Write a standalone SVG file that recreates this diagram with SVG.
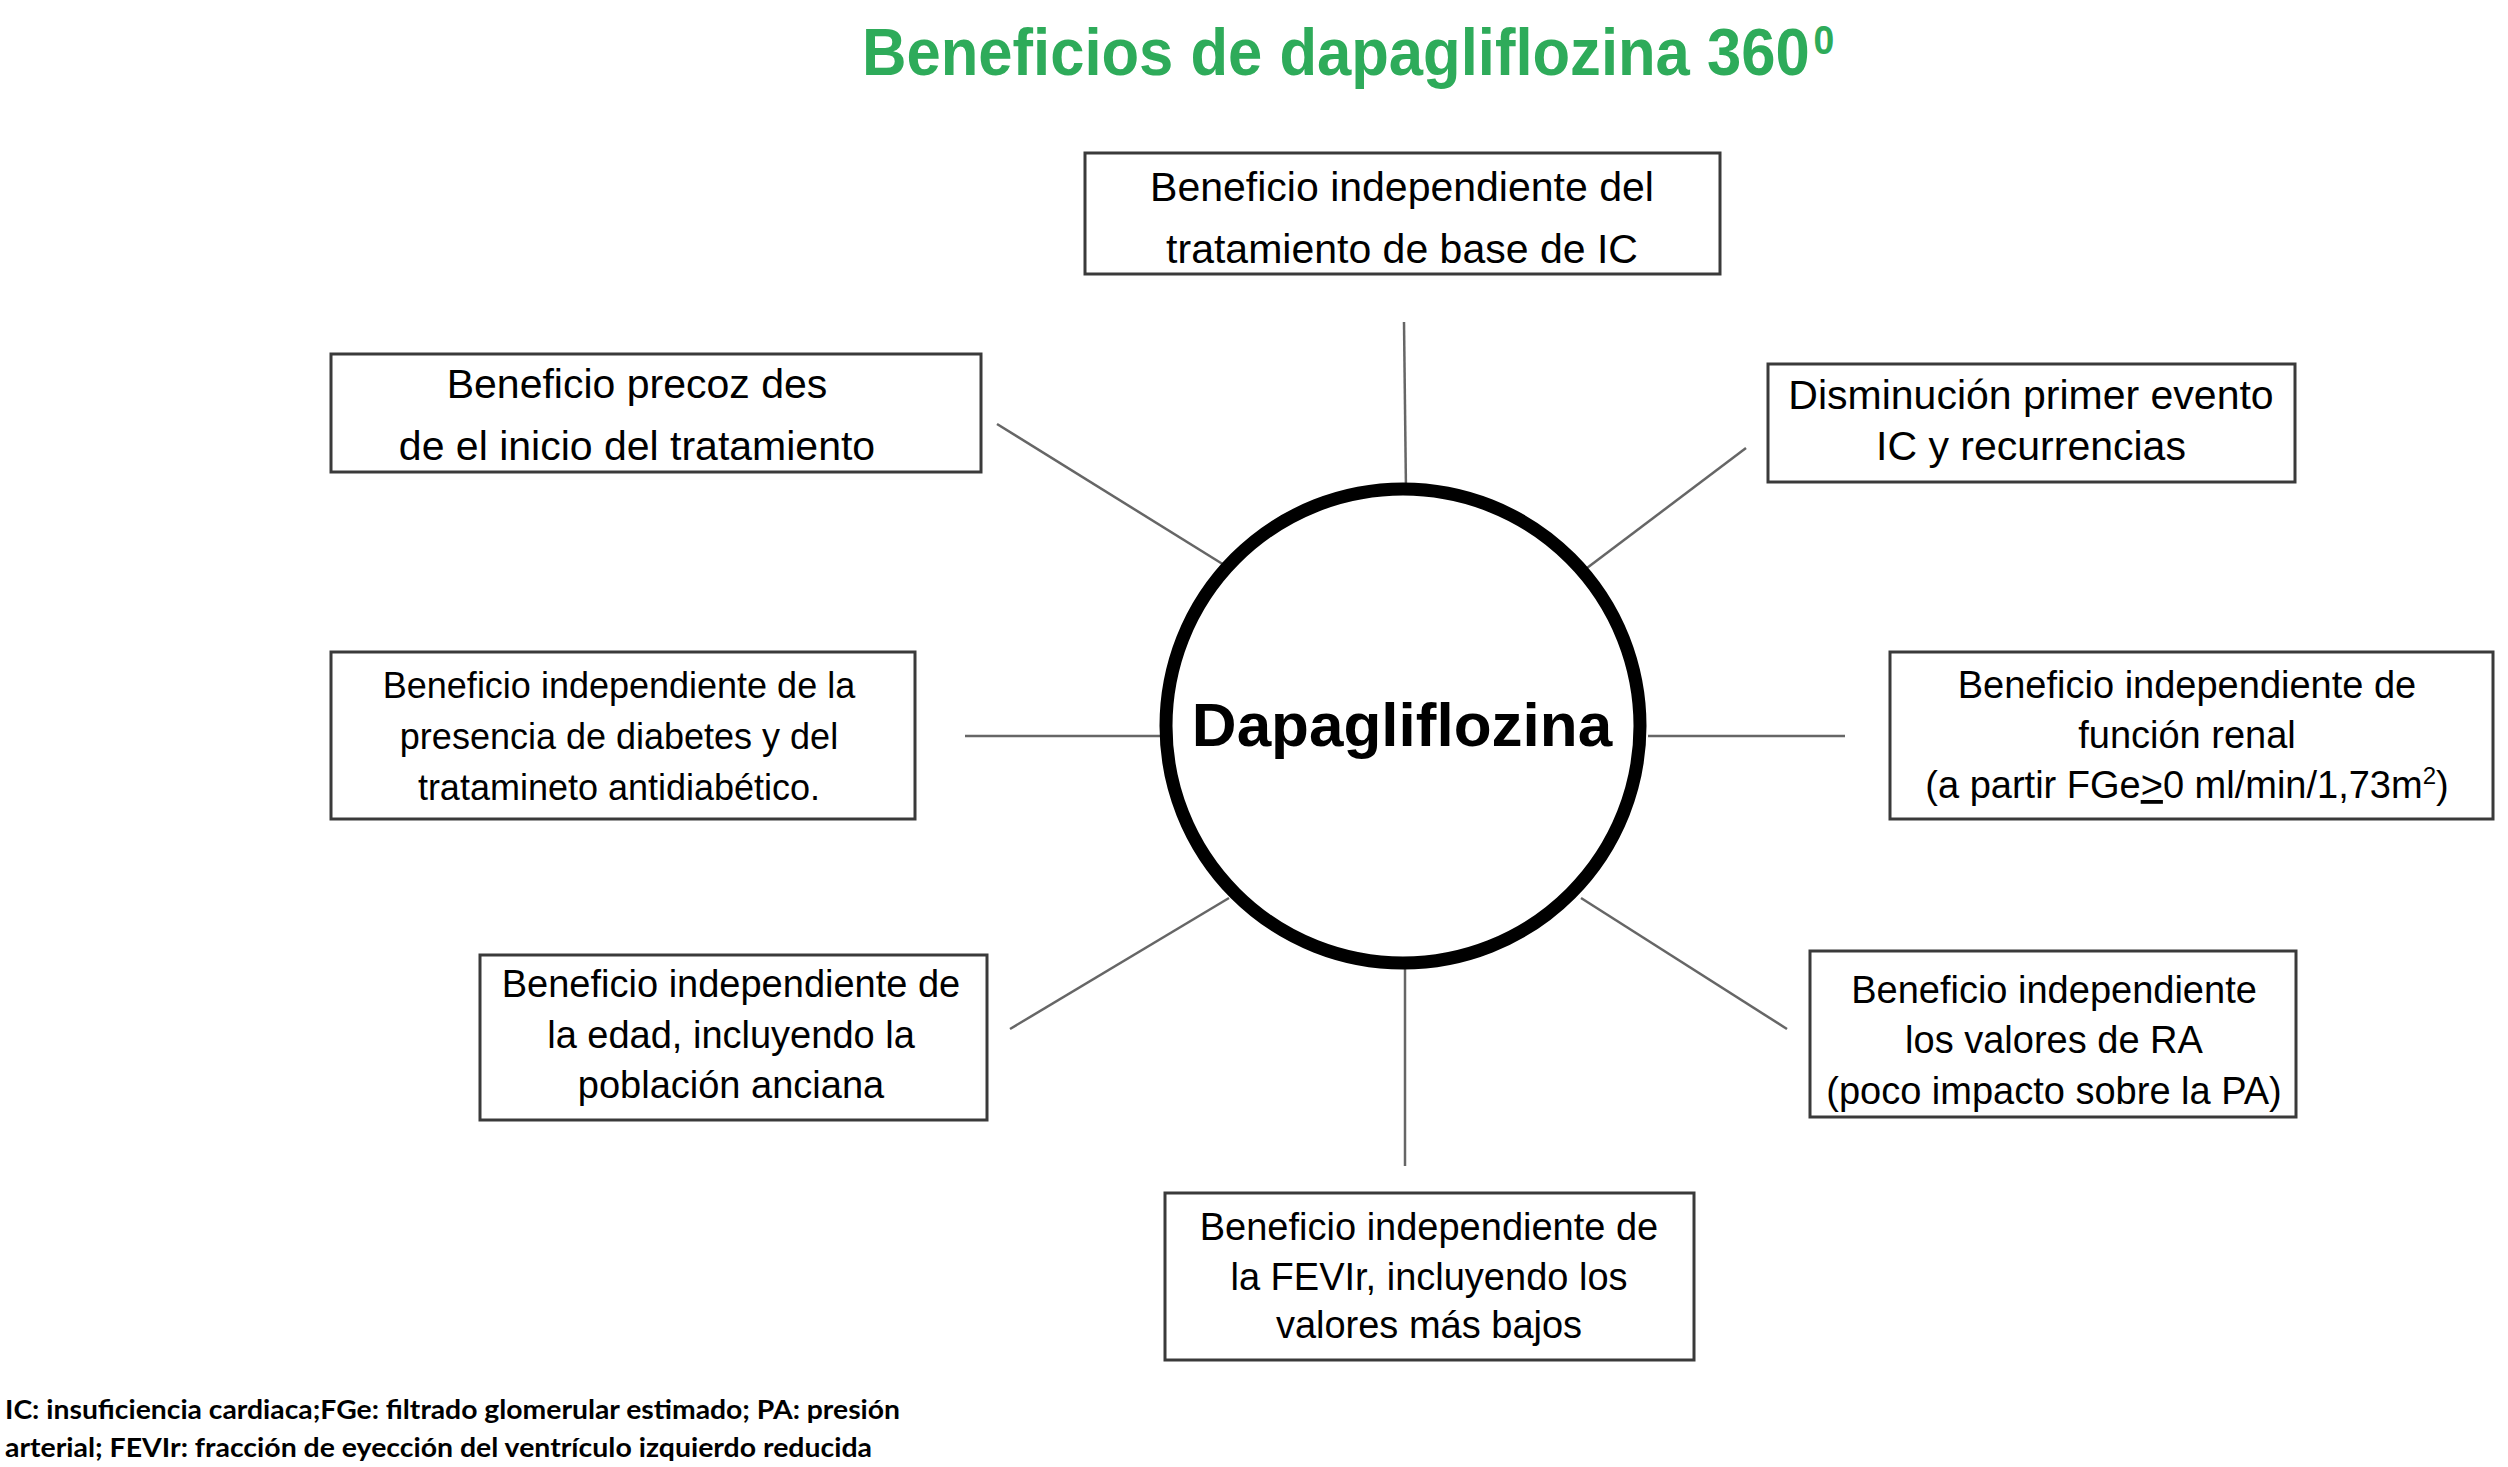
<svg xmlns="http://www.w3.org/2000/svg" width="2508" height="1467" viewBox="0 0 2508 1467">
<style>
.box{fill:#fff;stroke:#3a3a3a;stroke-width:3}
.t{font-family:"Liberation Sans",Arial,Helvetica,sans-serif;fill:#000;text-anchor:middle}
.t41{font-size:41px}
.t38{font-size:38px}
.t36{font-size:36px}
.conn line{stroke:#666;stroke-width:2.5}
.title{font-family:"Liberation Sans",Arial,Helvetica,sans-serif;font-weight:bold;fill:#2eab5a}
.foot{font-family:Lato,"Open Sans",sans-serif;font-weight:bold;font-size:26px;fill:#000}
</style>
<rect width="2508" height="1467" fill="#fff"/>
<g id="title">
<text class="title" transform="translate(862,75) scale(0.933,1)" x="0" y="0" font-size="66">Beneficios de dapagliflozina 360<tspan font-size="40" dx="4" dy="-21">0</tspan></text>
</g>
<g id="connectors" class="conn">
<line x1="1404" y1="322" x2="1406" y2="492"/>
<line x1="997" y1="424" x2="1229" y2="568"/>
<line x1="1746" y1="448" x2="1583" y2="571"/>
<line x1="965" y1="736" x2="1163" y2="736"/>
<line x1="1648" y1="736" x2="1845" y2="736"/>
<line x1="1010" y1="1029" x2="1229" y2="898"/>
<line x1="1581" y1="898" x2="1787" y2="1029"/>
<line x1="1405" y1="966" x2="1405" y2="1166"/>
</g>
<g id="center">
<circle cx="1403" cy="726" r="237" fill="#fff" stroke="#000" stroke-width="13"/>
<text class="t" x="1402" y="746" font-size="62" font-weight="bold">Dapagliflozina</text>
</g>
<g id="n-top">
<rect class="box" x="1085" y="153" width="635" height="121"/>
<text class="t t41" x="1402" y="201">Beneficio independiente del</text>
<text class="t t41" x="1402" y="263">tratamiento de base de IC</text>
</g>
<g id="n-topleft">
<rect class="box" x="331" y="354" width="650" height="118"/>
<text class="t t41" x="637" y="398">Beneficio precoz des</text>
<text class="t t41" x="637" y="460">de el inicio del tratamiento</text>
</g>
<g id="n-topright">
<rect class="box" x="1768" y="364" width="527" height="118"/>
<text class="t t41" x="2031" y="409">Disminución primer evento</text>
<text class="t t41" x="2031" y="460">IC y recurrencias</text>
</g>
<g id="n-left">
<rect class="box" x="331" y="652" width="584" height="167"/>
<text class="t t36" x="619" y="698">Beneficio independiente de la</text>
<text class="t t36" x="619" y="749">presencia de diabetes y del</text>
<text class="t t36" x="619" y="800">tratamineto antidiabético.</text>
</g>
<g id="n-right">
<rect class="box" x="1890" y="652" width="603" height="167"/>
<text class="t t38" x="2187" y="698">Beneficio independiente de</text>
<text class="t t38" x="2187" y="748">función renal</text>
<text class="t t38" x="2187" y="798">(a partir FGe<tspan text-decoration="underline">&gt;</tspan>0 ml/min/1,73m<tspan font-size="24" dy="-14">2</tspan><tspan dy="14">)</tspan></text>
</g>
<g id="n-bottomleft">
<rect class="box" x="480" y="955" width="507" height="165"/>
<text class="t t38" x="731" y="997">Beneficio independiente de</text>
<text class="t t38" x="731" y="1048">la edad, incluyendo la</text>
<text class="t t38" x="731" y="1098">población anciana</text>
</g>
<g id="n-bottomright">
<rect class="box" x="1810" y="951" width="486" height="166"/>
<text class="t t38" x="2054" y="1003">Beneficio independiente</text>
<text class="t t38" x="2054" y="1053">los valores de RA</text>
<text class="t t38" x="2054" y="1104">(poco impacto sobre la PA)</text>
</g>
<g id="n-bottom">
<rect class="box" x="1165" y="1193" width="529" height="167"/>
<text class="t t38" x="1429" y="1240">Beneficio independiente de</text>
<text class="t t38" x="1429" y="1290">la FEVIr, incluyendo los</text>
<text class="t t38" x="1429" y="1338">valores más bajos</text>
</g>
<g id="footnote">
<text class="foot" x="5" y="1419" textLength="895" lengthAdjust="spacingAndGlyphs">IC: insuficiencia cardiaca;FGe: filtrado glomerular estimado; PA: presión</text>
<text class="foot" x="5" y="1457" textLength="867" lengthAdjust="spacingAndGlyphs">arterial; FEVIr: fracción de eyección del ventrículo izquierdo reducida</text>
</g>
</svg>
